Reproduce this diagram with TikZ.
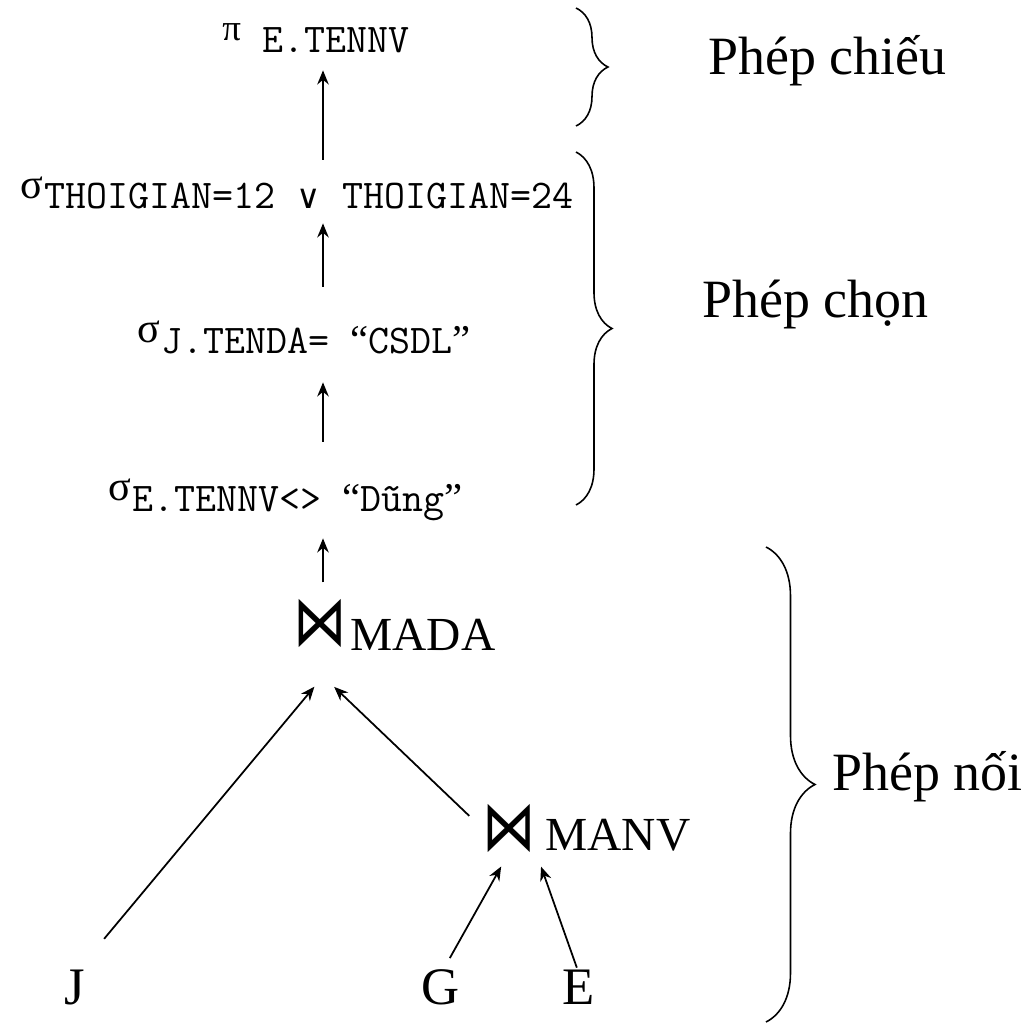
\documentclass[tikz,border=0pt]{standalone}
\usepackage{fontspec}
\setmainfont{Liberation Serif}
\newfontfamily\symfont{DejaVu Sans}
\usepackage{tikz}
\usetikzlibrary{arrows.meta,decorations.pathreplacing}

\newcommand{\selop}[1]{{\fontsize{24}{24}\selectfont\raisebox{6pt}{σ}}\hspace{1pt}{\ttfamily\fontsize{23.2}{26}\selectfont #1}}
\newcommand{\orop}{{\symfont\fontsize{19}{19}\selectfont ∨}}
\newcommand{\qt}[1]{{\rmfamily “}#1{\rmfamily ”}}

\begin{document}
\begin{tikzpicture}[x=0.02cm, y=-0.02cm,
    cond/.style={inner sep=0pt, anchor=base west, text height=17pt, text depth=2pt},
    joincond/.style={cond, font=\fontsize{27}{32}\selectfont},
    bowtie/.style={inner sep=0pt, minimum width=0.7cm, minimum height=0.8cm, font=\symfont\fontsize{32}{32}\selectfont},
    leaf/.style={inner sep=0pt, anchor=base, text height=17pt, text depth=2pt, font=\fontsize{30}{30}\selectfont},
    lbl/.style={inner sep=0pt, anchor=base west, font=\fontsize{30.7}{36}\selectfont},
    arr/.style={-{Stealth[length=8pt,width=6.5pt]}, line width=1pt},
    brc/.style={decorate, decoration={brace, amplitude=#1}, line width=0.9pt}]
    \useasboundingbox (0,0) rectangle (1035,1024);
    \coordinate (spine) at (323,0);

    % projection and selections
    \node[cond, font=\fontsize{21}{24}\selectfont] (proj) at (222,53) {\raisebox{7pt}{π}\hspace{12pt}{\ttfamily\fontsize{23.2}{26}\selectfont E.TENNV}};
    \node[cond] (sel1) at (20,209) {\selop{THOIGIAN=12 \orop{} THOIGIAN=24}};
    \node[cond] (sel2) at (137,353) {\selop{J.TENDA= \qt{CSDL}}};
    \node[cond] (sel3) at (108,511) {\selop{E.TENNV<> \qt{Dũng}}};

    % joins
    \node[bowtie] (bt1) at (320,623) {\scalebox{0.95}[1.25]{⋈}};
    \node[joincond] (mada) at (350,650) {MADA};
    \node[bowtie] (bt2) at (509,828) {\scalebox{0.95}[1.25]{⋈}};
    \node[joincond] (manv) at (545,850) {MANV};

    % relations
    \node[leaf] (J) at (75,1004) {J};
    \node[leaf] (G) at (441,1004) {G};
    \node[leaf] (E) at (579,1004) {E};

    \foreach \lo/\hi/\s/\t in {sel1/proj/0.38cm/0.27cm, sel2/sel1/0.72cm/0.21cm,
                               sel3/sel2/0.78cm/0.51cm, bt1/sel3/0.32cm/0.47cm}
        \draw[arr, line width=1.2pt, shorten <=\s, shorten >=\t] (\lo.north -| spine) -- (\hi.south -| spine);
    \draw[arr, shorten <=0.91cm, shorten >=1.02cm] (J.north) -- (bt1.south east);
    \draw[arr, shorten <=0.35cm, shorten >=1.14cm] (bt2.west) -- (bt1.south west);
    \draw[arr, shorten <=0.36cm, shorten >=0.32cm] (G.north) -- (bt2.south);
    \draw[arr, shorten <=0.13cm, shorten >=0.3cm] (E.north) -- (bt2.south east);

    % braces
    \draw[brc=0.64cm] (576,8) -- (576,126);
    \draw[brc=0.72cm] (576,152) -- (576,505);
    \draw[brc=0.98cm] (766,547) -- (766,1022);
    \node[lbl] (chieu) at (708,75) {Phép chiếu};
    \node[lbl] (chon) at (702,317) {Phép chọn};
    \node[lbl] (noi) at (832,790) {Phép nối};
\end{tikzpicture}
\end{document}
